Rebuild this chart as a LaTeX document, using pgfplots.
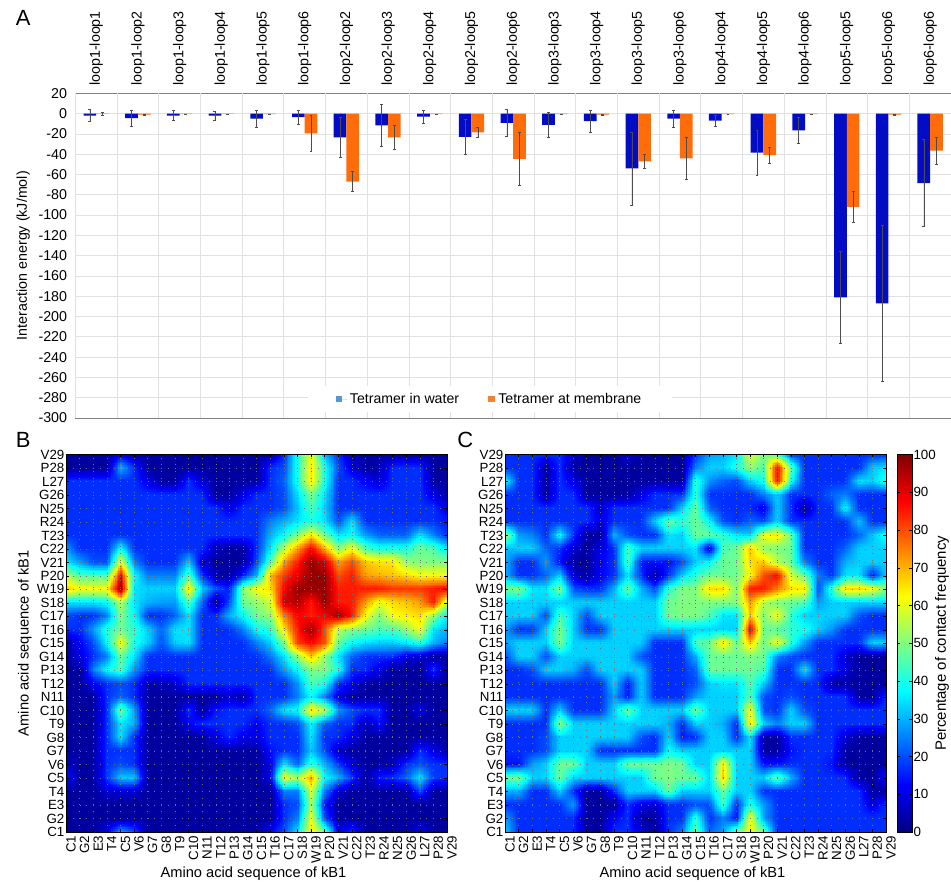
\documentclass[border=0pt]{standalone}
\usepackage{pgfplots}
\pgfplotsset{compat=1.18}
\usepgfplotslibrary{patchplots}
\usepackage{fontspec}
\setmainfont{Liberation Sans}
\definecolor{barblue}{RGB}{2,12,196}
\definecolor{barorange}{RGB}{255,108,10}
\definecolor{legblue}{RGB}{84,152,214}
\definecolor{legorange}{RGB}{240,130,50}
\definecolor{gridgray}{RGB}{225,225,225}
\definecolor{axisgray}{RGB}{130,130,130}
\pgfplotstableread{
x water werr orange oerr
0 -2 6 -0.3 1.2
1 -4.5 8 -1 0.6
2 -2 5 -0.3 0
3 -2 4.8 -0.2 0
4 -5 8 -0.5 0
5 -3.5 7 -19.5 18
6 -23.5 20 -67 10
7 -11.5 21 -23.5 12
8 -3 6.5 -0.5 0.2
9 -23 17 -18.5 5
10 -9 13 -44.5 26
11 -11 12.5 -0.5 0.2
12 -7.5 10.5 -1 0.6
13 -54 36 -47 6.5
14 -5 8.5 -44 21
15 -7 5.8 -0.5 0
16 -38.5 22.5 -41 7.8
17 -16.5 12.5 -0.5 0.2
18 -181 45 -92 15
19 -187 77 -1 0.6
20 -68.5 43 -36.5 13.5
}\bardata
\pgfplotsset{
 heat/.style={
  scale only axis, width=285.75pt, height=283.1pt,
  xmin=1,xmax=29,ymin=1,ymax=29,
  axis on top, colormap/jet, point meta min=0, point meta max=100,
  xtick={1,...,29}, ytick={1,...,29},
  xticklabels={C1,G2,E3,T4,C5,V6,G7,G8,T9,C10,N11,T12,P13,G14,C15,T16,C17,S18,W19,P20,V21,C22,T23,R24,N25,G26,L27,P28,V29},
  yticklabels={C1,G2,E3,T4,C5,V6,G7,G8,T9,C10,N11,T12,P13,G14,C15,T16,C17,S18,W19,P20,V21,C22,T23,R24,N25,G26,L27,P28,V29},
  tick align=inside, tick style={black,line width=0.3pt}, major tick length=2pt,
  xticklabel style={rotate=90,anchor=east,font=\fontsize{10pt}{10pt}\selectfont,xshift=-1.5pt,yshift=-3.75pt,inner sep=1pt},
  yticklabel style={font=\fontsize{10pt}{10pt}\selectfont,inner sep=1pt},
  axis line style={black,line width=0.5pt},
  grid=major, grid style={black!55,line width=0.25pt,dash pattern=on 0.3pt off 4.8pt},
  xlabel={Amino acid sequence of kB1},
  xlabel style={font=\fontsize{11pt}{11pt}\selectfont,at={(axis description cs:0.492,-0.111)},anchor=center},
 },
 heatplot/.style={surf,patch type=bilinear,shader=interp,mesh/cols=29,point meta=explicit},
 /pgfplots/table/heattab/.style={header=false,row sep=\\,x expr={1+mod(\coordindex,29)},y expr={1+floor((\coordindex+0.5)/29)},meta index=0},
}
\begin{document}
\begin{tikzpicture}[x=1pt,y=1pt]
\useasboundingbox (0,0) rectangle (713.25,661.5);
\begin{axis}[
  at={(56.5pt,348pt)},anchor=south west,
  scale only axis,width=656.75pt,height=243.5pt,
  ybar=0pt,bar width=9.5pt,
  xmin=-0.5,xmax=20.5,ymin=-300,ymax=20,
  ytick={-300,-280,...,20},
  xtick={0,...,20},
  xticklabels={loop1-loop1,loop1-loop2,loop1-loop3,loop1-loop4,loop1-loop5,loop1-loop6,loop2-loop2,loop2-loop3,loop2-loop4,loop2-loop5,loop2-loop6,loop3-loop3,loop3-loop4,loop3-loop5,loop3-loop6,loop4-loop4,loop4-loop5,loop4-loop6,loop5-loop5,loop5-loop6,loop6-loop6},
  xticklabel pos=top,
  xticklabel style={rotate=90,anchor=west,font=\fontsize{10.7pt}{11pt}\selectfont,inner sep=1pt,xshift=0.25pt},
  yticklabel style={font=\fontsize{10.7pt}{11pt}\selectfont,inner sep=1pt,xshift=-5pt},
  /pgf/number format/assume math mode=true,
  major x tick style={draw=none}, major y tick style={draw=none},
  extra x ticks={-0.5,0.5,...,20.5}, extra x tick labels={},
  extra x tick style={grid=major,major grid style={gridgray,line width=0.6pt},major tick length=0pt},
  ymajorgrids, major grid style={gridgray,line width=0.6pt},
  axis line style={axisgray,line width=0.6pt},
  ylabel={Interaction energy (kJ/mol)},
  ylabel style={font=\fontsize{10.7pt}{11pt}\selectfont,at={(axis description cs:-0.0597,0.5)},anchor=center},
  legend style={at={(0.2657,0.0585)},anchor=west,draw=none,fill=white,legend columns=2,
     font=\fontsize{10.6pt}{11pt}\selectfont,inner xsep=21pt,inner ysep=3pt,
     /tikz/every even column/.append style={column sep=19.5pt}},
  legend cell align=left,
]
\addplot[fill=barblue,draw=none,
   legend image code/.code={\path (0pt,0pt) -- (8.25pt,0pt);\fill[legblue] (0pt,-2.25pt) rectangle (4.5pt,2.25pt);},
   error bars/.cd,y dir=both,y explicit,
   error bar style={black!70,line width=0.4pt},error mark options={rotate=90,mark size=1.1pt,black!70,line width=0.4pt}]
  table[x=x,y=water,y error=werr]{\bardata};
\addlegendentry{Tetramer in water}
\addplot[fill=barorange,draw=none,
   legend image code/.code={\path (0pt,0pt) -- (5.95pt,0pt);\fill[legorange] (0pt,-2.25pt) rectangle (5.2pt,2.25pt);},
   error bars/.cd,y dir=both,y explicit,
   error bar style={black!70,line width=0.4pt},error mark options={rotate=90,mark size=1.1pt,black!70,line width=0.4pt}]
  table[x=x,y=orange,y error=oerr]{\bardata};
\addlegendentry{Tetramer at membrane}
\end{axis}
\begin{axis}[heat,at={(49.5pt,37.5pt)},anchor=south west,
  ylabel={Amino acid sequence of kB1},
  ylabel style={font=\fontsize{11pt}{11pt}\selectfont,at={(axis description cs:-0.108,0.5)},anchor=center},
]
\addplot[heatplot] table[heattab]{
3\\3\\3\\10\\28\\20\\3\\3\\3\\3\\3\\3\\3\\3\\3\\12\\20\\35\\65\\48\\10\\17\\3\\3\\3\\3\\10\\3\\3\\
3\\3\\3\\3\\3\\3\\3\\3\\3\\3\\3\\3\\3\\3\\3\\3\\17\\25\\62\\20\\3\\3\\3\\3\\3\\3\\3\\3\\3\\
3\\3\\3\\3\\3\\3\\3\\3\\3\\3\\3\\3\\3\\3\\3\\3\\17\\20\\55\\15\\3\\3\\3\\3\\3\\3\\3\\3\\3\\
3\\3\\3\\8\\8\\8\\3\\3\\3\\3\\3\\3\\3\\3\\3\\3\\25\\25\\60\\25\\8\\3\\3\\3\\3\\3\\20\\3\\3\\
15\\3\\3\\18\\32\\32\\3\\3\\3\\3\\3\\3\\3\\3\\3\\10\\62\\55\\72\\38\\30\\18\\3\\15\\17\\22\\35\\18\\17\\
8\\3\\3\\17\\20\\17\\3\\3\\3\\3\\3\\3\\3\\3\\3\\10\\35\\22\\42\\30\\18\\8\\3\\3\\6\\17\\20\\17\\17\\
3\\3\\3\\17\\17\\17\\3\\3\\3\\3\\3\\3\\3\\3\\3\\14\\17\\17\\32\\20\\6\\3\\3\\3\\3\\3\\17\\10\\3\\
3\\3\\3\\17\\35\\17\\3\\3\\3\\3\\3\\10\\17\\10\\10\\17\\17\\17\\35\\17\\17\\10\\3\\3\\3\\3\\3\\3\\3\\
3\\3\\3\\17\\35\\30\\3\\3\\3\\12\\17\\17\\17\\17\\12\\17\\17\\20\\37\\22\\17\\17\\5\\14\\3\\3\\3\\3\\3\\
3\\3\\3\\17\\48\\28\\3\\3\\3\\17\\3\\15\\17\\17\\17\\22\\35\\38\\65\\55\\27\\20\\17\\17\\3\\3\\10\\3\\3\\
3\\3\\3\\17\\22\\17\\3\\3\\3\\3\\3\\3\\8\\3\\17\\17\\17\\25\\38\\25\\10\\3\\3\\3\\3\\3\\3\\3\\3\\
3\\3\\12\\17\\20\\17\\5\\5\\8\\17\\17\\17\\17\\17\\17\\17\\17\\27\\45\\40\\17\\12\\3\\3\\3\\3\\3\\3\\3\\
3\\3\\25\\38\\45\\27\\17\\17\\17\\17\\17\\17\\17\\17\\17\\17\\28\\38\\50\\50\\40\\17\\17\\10\\3\\3\\3\\17\\3\\
3\\10\\17\\25\\48\\35\\17\\17\\17\\17\\17\\17\\17\\17\\17\\24\\35\\52\\68\\52\\35\\22\\17\\17\\17\\10\\8\\3\\3\\
3\\12\\20\\38\\62\\40\\33\\20\\33\\35\\17\\17\\17\\17\\25\\33\\50\\82\\88\\80\\48\\38\\35\\33\\33\\36\\42\\30\\25\\
17\\17\\28\\42\\48\\42\\33\\22\\35\\35\\17\\17\\17\\25\\38\\42\\65\\85\\98\\80\\55\\50\\48\\45\\45\\52\\62\\35\\30\\
20\\17\\17\\25\\50\\38\\17\\17\\22\\35\\17\\17\\30\\38\\48\\52\\75\\88\\85\\88\\97\\85\\62\\50\\62\\64\\66\\52\\35\\
35\\35\\35\\38\\55\\35\\30\\28\\28\\45\\22\\3\\20\\48\\52\\58\\92\\95\\85\\98\\85\\85\\72\\60\\66\\68\\72\\85\\55\\
68\\62\\62\\62\\98\\35\\33\\33\\33\\65\\32\\20\\15\\50\\62\\65\\88\\98\\98\\98\\85\\85\\85\\85\\82\\82\\82\\85\\88\\
55\\45\\45\\45\\88\\38\\25\\25\\25\\45\\17\\5\\3\\15\\30\\70\\82\\90\\98\\98\\80\\85\\72\\70\\68\\66\\62\\62\\62\\
35\\28\\20\\20\\62\\25\\17\\17\\17\\32\\8\\3\\3\\3\\20\\45\\72\\85\\98\\92\\72\\80\\68\\65\\65\\52\\50\\50\\50\\
27\\17\\17\\17\\38\\17\\17\\17\\17\\17\\17\\6\\3\\3\\17\\35\\55\\72\\88\\70\\50\\62\\45\\40\\40\\40\\48\\45\\35\\
17\\17\\17\\17\\17\\17\\17\\17\\17\\17\\17\\17\\17\\17\\17\\30\\38\\50\\65\\48\\35\\38\\28\\22\\22\\22\\35\\25\\17\\
17\\17\\17\\17\\17\\17\\17\\17\\17\\17\\17\\17\\17\\17\\17\\25\\30\\35\\40\\35\\20\\35\\17\\17\\17\\17\\17\\17\\15\\
17\\17\\17\\17\\17\\17\\17\\17\\17\\17\\17\\17\\10\\17\\17\\17\\20\\32\\45\\33\\17\\17\\17\\17\\17\\17\\17\\17\\10\\
17\\17\\17\\17\\17\\17\\17\\17\\17\\17\\17\\3\\3\\10\\17\\17\\20\\35\\50\\35\\17\\17\\17\\17\\17\\17\\17\\10\\3\\
17\\17\\17\\17\\17\\17\\10\\3\\3\\17\\8\\3\\3\\3\\3\\17\\22\\40\\65\\40\\17\\17\\12\\8\\17\\17\\17\\3\\3\\
3\\3\\3\\3\\30\\17\\3\\3\\3\\3\\3\\3\\3\\3\\3\\17\\20\\40\\65\\40\\20\\10\\3\\5\\17\\17\\17\\3\\3\\
3\\3\\3\\3\\10\\3\\3\\3\\3\\3\\3\\3\\3\\3\\3\\3\\17\\40\\62\\30\\17\\5\\3\\3\\3\\3\\3\\3\\3\\
};
\end{axis}
\begin{axis}[heat,at={(378.75pt,37.5pt)},anchor=south west,
  colorbar,
  colorbar style={at={(1.0295,0)},anchor=south west,width=11pt,height=283.1pt,
     ytick={0,10,...,100},
     yticklabel style={font=\fontsize{10pt}{10pt}\selectfont,inner sep=1pt},
     ylabel={Percentage of contact frequency},
     ylabel style={font=\fontsize{11.2pt}{11pt}\selectfont,at={(axis description cs:3.05,0.5)},anchor=center},
     tick align=inside,major tick length=2pt,grid=none,
     /pgf/number format/assume math mode=true},
]
\addplot[heatplot] table[heattab]{
33\\17\\17\\17\\17\\17\\3\\3\\17\\17\\8\\3\\17\\25\\48\\22\\28\\48\\62\\48\\17\\17\\17\\17\\17\\17\\17\\17\\17\\
28\\17\\17\\17\\17\\17\\3\\3\\12\\17\\3\\3\\17\\17\\42\\17\\25\\15\\62\\28\\17\\17\\17\\17\\17\\17\\17\\17\\17\\
17\\17\\17\\17\\17\\28\\3\\3\\3\\17\\10\\8\\17\\17\\20\\20\\45\\17\\40\\28\\17\\17\\17\\17\\17\\17\\17\\10\\17\\
30\\30\\17\\17\\33\\17\\3\\3\\17\\33\\33\\33\\48\\33\\33\\33\\48\\33\\33\\17\\17\\17\\17\\17\\17\\17\\17\\3\\3\\
48\\50\\33\\33\\48\\33\\33\\33\\33\\33\\33\\48\\50\\48\\48\\33\\68\\33\\33\\33\\48\\30\\17\\17\\17\\17\\3\\3\\15\\
14\\14\\28\\33\\48\\48\\33\\33\\33\\48\\48\\48\\50\\48\\33\\33\\65\\33\\33\\14\\14\\17\\17\\17\\14\\3\\3\\3\\3\\
17\\17\\17\\20\\33\\33\\33\\17\\17\\17\\17\\17\\38\\33\\33\\33\\33\\33\\33\\3\\3\\14\\17\\17\\17\\3\\3\\3\\3\\
17\\17\\17\\20\\33\\33\\33\\33\\33\\33\\20\\17\\33\\15\\17\\33\\33\\17\\35\\3\\3\\17\\17\\17\\17\\8\\3\\3\\3\\
17\\17\\17\\17\\52\\33\\33\\33\\33\\33\\33\\33\\30\\17\\33\\33\\30\\17\\65\\33\\25\\33\\33\\17\\17\\17\\17\\17\\17\\
33\\33\\33\\17\\33\\17\\17\\17\\33\\48\\33\\33\\33\\33\\48\\33\\33\\33\\62\\20\\17\\33\\20\\17\\17\\17\\17\\17\\17\\
17\\17\\17\\17\\17\\17\\17\\17\\28\\15\\33\\17\\17\\17\\28\\33\\33\\33\\45\\20\\17\\20\\17\\17\\17\\17\\3\\3\\17\\
17\\17\\17\\17\\17\\17\\17\\17\\33\\15\\33\\17\\17\\17\\20\\33\\35\\35\\45\\33\\17\\17\\17\\17\\3\\3\\3\\3\\3\\
17\\17\\20\\33\\33\\30\\20\\33\\33\\33\\33\\17\\17\\17\\22\\48\\48\\48\\48\\45\\17\\17\\35\\17\\17\\10\\3\\3\\3\\
20\\33\\33\\20\\33\\33\\33\\33\\33\\33\\20\\17\\17\\17\\30\\48\\48\\48\\50\\48\\25\\20\\17\\17\\17\\8\\3\\3\\3\\
28\\33\\33\\33\\50\\33\\33\\33\\33\\33\\33\\17\\17\\17\\45\\48\\65\\48\\68\\48\\62\\42\\28\\17\\17\\17\\17\\33\\33\\
28\\17\\17\\33\\50\\33\\17\\17\\33\\33\\33\\33\\33\\33\\33\\33\\33\\33\\90\\48\\45\\42\\40\\33\\27\\17\\17\\17\\17\\
33\\33\\33\\20\\45\\33\\20\\33\\33\\33\\33\\33\\48\\50\\50\\45\\35\\35\\68\\50\\62\\42\\33\\33\\33\\33\\20\\17\\17\\
33\\33\\33\\33\\33\\33\\33\\33\\33\\33\\33\\33\\48\\50\\50\\50\\50\\50\\72\\55\\50\\48\\45\\28\\33\\33\\33\\33\\33\\
48\\50\\35\\35\\50\\20\\17\\17\\30\\48\\30\\20\\42\\50\\50\\66\\66\\50\\85\\85\\75\\65\\65\\20\\42\\66\\66\\62\\50\\
30\\17\\17\\22\\33\\8\\3\\12\\17\\35\\17\\3\\17\\33\\42\\48\\48\\48\\62\\80\\88\\58\\48\\25\\17\\35\\35\\15\\33\\
30\\17\\17\\28\\14\\3\\3\\12\\17\\45\\15\\14\\14\\20\\33\\38\\48\\48\\66\\68\\55\\48\\25\\17\\17\\30\\33\\33\\33\\
30\\33\\33\\22\\17\\8\\3\\10\\17\\45\\33\\33\\33\\33\\35\\8\\45\\48\\68\\52\\50\\48\\17\\17\\17\\22\\33\\33\\33\\
55\\28\\25\\17\\38\\17\\3\\3\\30\\20\\17\\17\\35\\33\\48\\48\\42\\35\\33\\62\\65\\48\\17\\17\\17\\17\\22\\32\\40\\
17\\17\\17\\17\\17\\17\\17\\10\\17\\17\\17\\33\\48\\42\\48\\38\\20\\17\\22\\20\\33\\17\\17\\17\\17\\17\\32\\17\\17\\
17\\17\\17\\17\\17\\17\\17\\8\\17\\17\\17\\17\\17\\33\\48\\22\\17\\17\\17\\10\\33\\17\\3\\17\\17\\38\\17\\17\\17\\
17\\17\\17\\3\\17\\17\\3\\3\\3\\3\\10\\17\\17\\17\\42\\17\\17\\17\\17\\25\\33\\17\\17\\17\\22\\25\\17\\17\\17\\
38\\17\\17\\3\\17\\10\\3\\3\\3\\3\\3\\3\\3\\3\\42\\27\\22\\20\\33\\40\\88\\40\\17\\17\\17\\17\\35\\33\\42\\
17\\17\\17\\3\\17\\3\\3\\3\\3\\3\\3\\3\\3\\3\\25\\33\\33\\40\\52\\45\\88\\48\\17\\17\\17\\17\\17\\32\\35\\
17\\17\\17\\17\\17\\8\\3\\3\\3\\8\\3\\3\\3\\3\\17\\28\\30\\35\\60\\50\\45\\17\\17\\17\\17\\17\\17\\17\\17\\
};
\end{axis}
\node[anchor=center,font=\fontsize{16.5pt}{18pt}\selectfont] at (17.5,648) {A};
\node[anchor=center,font=\fontsize{16.5pt}{18pt}\selectfont] at (17.5,331.5) {B};
\node[anchor=center,font=\fontsize{16.5pt}{18pt}\selectfont] at (349,331.5) {C};
\end{tikzpicture}
\end{document}
